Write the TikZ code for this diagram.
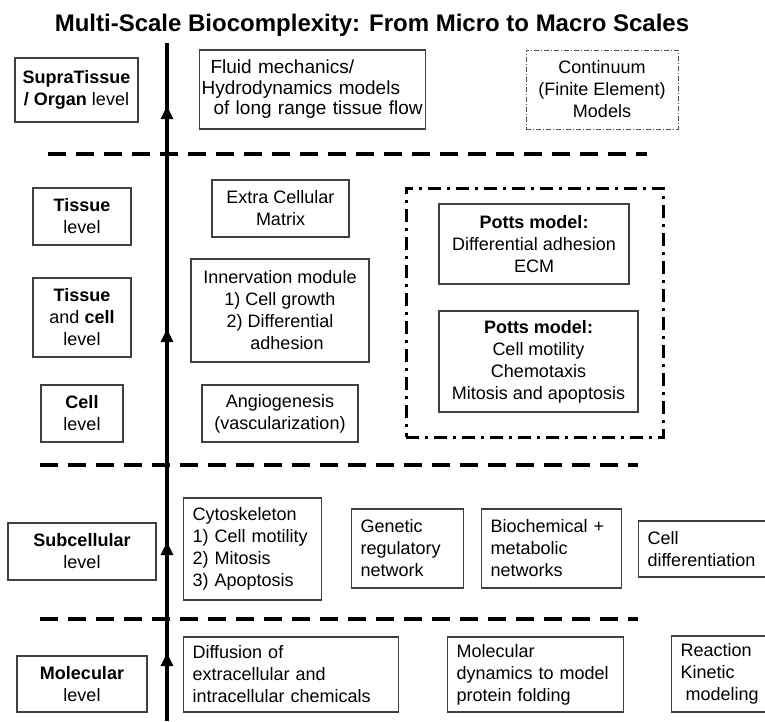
\documentclass[tikz,border=0pt]{standalone}
\usepackage{fontspec}
\setmainfont{Liberation Sans}
\begin{document}
\begin{tikzpicture}[x=1pt,y=-1pt,
  every node/.style={font=\fontsize{18}{22}\selectfont},
  cbox/.style={draw=black!75, line width=1.1pt, inner sep=0pt, align=center},
  lbox/.style={draw=black!75, line width=1.1pt, inner ysep=0pt, inner xsep=9pt,
               align=left, anchor=west},
  level/.style={cbox},
  fembox/.style={draw=black!70, line width=0.9pt, inner sep=0pt, align=center,
                 dash pattern=on 5pt off 2pt on 1pt off 2pt},
  groupbox/.style={draw=black, line width=3pt, inner sep=0pt,
                   dash pattern=on 13pt off 6pt on 3pt off 6pt},
  separator/.style={line width=4pt, dash pattern=on 18pt off 10pt},
  axis/.style={line width=3.5pt},
  tip/.style={fill=black}
]
\clip (0,0) rectangle (765,721);
\fill[white] (0,0) rectangle (765,721);

% title
\node[font=\fontsize{24}{28}\selectfont\bfseries, anchor=base] (title) at (372,31)
  {Multi-Scale Biocomplexity: From Micro to Macro Scales};

% scale separators
\coordinate (s1a) at (48,154);  \coordinate (s1b) at (647,154);
\coordinate (s2a) at (40,465);  \coordinate (s2b) at (638,465);
\coordinate (s3a) at (40,619);  \coordinate (s3b) at (638,619);
\draw[separator] (s1a) -- (s1b);
\draw[separator] (s2a) -- (s2b);
\draw[separator] (s3a) -- (s3b);

% scale axis with upward markers
\coordinate (axtop) at (167,43);
\coordinate (axbot) at (167,721);
\draw[axis] (axbot) -- (axtop);
\foreach \t in {106,329,542,653}{
  \fill[tip] (167,\t) -- (160.5,{\t+13}) -- (173.5,{\t+13}) -- cycle;
}

% level labels
\node[level, minimum width=123pt, minimum height=64pt] (supra) at (76.5,90)
  {\textbf{SupraTissue}\\\textbf{/ Organ} level};
\node[level, minimum width=98pt, minimum height=57pt] (tissue) at (82,216.5)
  {\textbf{Tissue}\\level};
\node[level, minimum width=98pt, minimum height=79pt] (tcell) at (82,317.5)
  {\textbf{Tissue}\\and \textbf{cell}\\level};
\node[level, minimum width=82pt, minimum height=57pt] (cell) at (82,413.5)
  {\textbf{Cell}\\level};
\node[level, minimum width=148pt, minimum height=57pt] (subcell) at (82,551.5)
  {\textbf{Subcellular}\\level};
\node[level, minimum width=130pt, minimum height=56pt] (molec) at (82,684)
  {\textbf{Molecular}\\level};

% supra-tissue / organ scale
\node[lbox, inner xsep=2pt, text width=222pt, minimum height=79pt,
      font=\fontsize{19}{20.5}\selectfont] (fluid) at (199,89.5)
  {\hspace*{9pt}Fluid mechanics/\\Hydrodynamics models\\\hspace*{12pt}of long range tissue flow};
\node[fembox, minimum width=152pt, minimum height=79pt] (fem) at (602,89.5)
  {Continuum\\(Finite Element)\\Models};

% tissue and cell scale
\node[cbox, minimum width=137pt, minimum height=57pt] (ecm) at (280.5,208.5)
  {Extra Cellular\\Matrix};
\node[cbox, minimum width=178pt, minimum height=103pt] (innerv) at (280,310.5)
  {Innervation module\\1) Cell growth\\2) Differential\\\hspace*{14pt}adhesion};
\node[cbox, minimum width=156pt, minimum height=57pt] (angio) at (280,413.5)
  {Angiogenesis\\(vascularization)};
\node[groupbox, minimum width=257pt, minimum height=249pt] (potts) at (534.5,312.5) {};
\node[cbox, minimum width=190pt, minimum height=80pt] (potts1) at (534,244)
  {\textbf{Potts model:}\\Differential adhesion\\ECM};
\node[cbox, minimum width=199pt, minimum height=101pt] (potts2) at (538.5,361.5)
  {\textbf{Potts model:}\\Cell motility\\Chemotaxis\\Mitosis and apoptosis};

% subcellular scale
\node[lbox, text width=120pt, minimum height=102pt] (cyto) at (183,549)
  {Cytoskeleton\\1) Cell motility\\2) Mitosis\\3) Apoptosis};
\node[lbox, text width=94pt, minimum height=79pt] (genetic) at (351,548.5)
  {Genetic\\regulatory\\network};
\node[lbox, text width=122pt, minimum height=79pt] (biochem) at (481,548.5)
  {Biochemical +\\metabolic\\networks};
\node[lbox, text width=150pt, minimum height=56pt] (celldiff) at (638,549)
  {Cell\\differentiation};

% molecular scale
\node[lbox, text width=197pt, minimum height=75pt] (diffusion) at (183,674.5)
  {Diffusion of\\extracellular and\\intracellular chemicals};
\node[lbox, text width=158pt, minimum height=75pt] (moldyn) at (447,674.5)
  {Molecular\\dynamics to model\\protein folding};
\node[lbox, text width=130pt, minimum height=76pt] (reaction) at (671,674)
  {Reaction\\Kinetic\\\hspace*{5pt}modeling};
\end{tikzpicture}
\end{document}
